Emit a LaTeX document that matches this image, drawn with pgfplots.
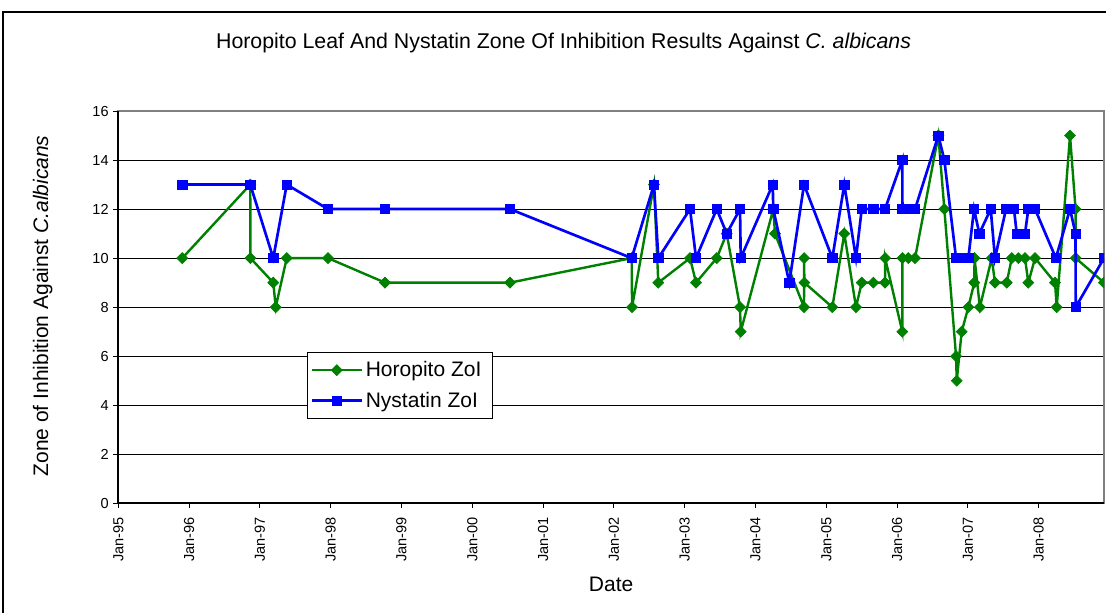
\documentclass[border=0pt]{standalone}
\usepackage{fontspec}
\setmainfont{Liberation Sans}
\usepackage{pgfplots}
\pgfplotsset{compat=1.18}
\definecolor{zgreen}{RGB}{0,128,0}
\definecolor{zblue}{RGB}{0,0,255}
\newcommand{\tickfont}{\fontsize{10.9}{13}\selectfont}
\newcommand{\labfont}{\fontsize{15.75}{19}\selectfont}
\begin{document}
\begin{tikzpicture}
\begin{axis}[name=ax, at={(0pt,0pt)}, anchor=south west,
  scale only axis, width=739.275pt, height=294.225pt,
  xmin=1995, xmax=2008.922, ymin=0, ymax=16,
  xtick={1995,...,2008},
  xticklabels={Jan-95,Jan-96,Jan-97,Jan-98,Jan-99,Jan-00,Jan-01,Jan-02,Jan-03,Jan-04,Jan-05,Jan-06,Jan-07,Jan-08},
  ytick={0,2,...,16},
  tick pos=left, tick align=outside, major tick length=3.75pt,
  ymajorgrids, grid style={black, line width=0.75pt},
  axis line style={draw=gray, line width=1.5pt},
  tick style={black, line width=0.75pt},
  xticklabel style={rotate=90, anchor=east, font=\tickfont},
  xticklabel shift=3pt,
  yticklabel style={font=\tickfont},
  /pgf/number format/assume math mode=true,
  xlabel={Date}, ylabel={Zone of Inhibition Against \textit{C.albicans}},
  label style={font=\labfont},
  xlabel style={at={(axis description cs:0.5,-0.2057)}, anchor=center},
  ylabel style={at={(axis description cs:-0.0768,0.503)}, anchor=center},
  title={Horopito Leaf And Nystatin Zone Of Inhibition Results Against \textit{C. albicans}},
  every axis title shift=0pt,
  title style={at={(axis description cs:0.4517,1.1733)}, anchor=center, font=\fontsize{16}{19}\selectfont},
  legend style={at={(axis description cs:0.1917,0.3864)}, anchor=north west,
    draw=black, line width=0.75pt, font=\labfont, row sep=6pt, inner xsep=2pt, inner ysep=5pt},
  legend cell align=left,
  legend image code/.code={\draw[mark repeat=2,mark phase=2] plot coordinates {(0cm,0cm) (0.66cm,0cm) (1.32cm,0cm)};},
  clip marker paths=true]
\addplot[color=zgreen, line width=1.8pt, mark=square*, mark size=2.9pt, mark options={rotate=45, line width=0.5pt}] coordinates {
(1995.904,10) (1996.864,13) (1996.866,10) (1997.189,9) (1997.223,8) (1997.379,10)
(1997.962,10) (1998.767,9) (2000.533,9) (2002.251,10) (2002.256,8) (2002.566,13)
(2002.627,9) (2003.075,10) (2003.160,9) (2003.452,10) (2003.593,11) (2003.781,8)
(2003.791,7) (2004.251,12) (2004.275,11) (2004.685,8) (2004.687,10) (2004.690,9)
(2005.085,8) (2005.254,11) (2005.419,8) (2005.500,9) (2005.664,9) (2005.829,9)
(2005.831,10) (2006.073,7) (2006.075,10) (2006.158,10) (2006.253,10) (2006.582,15)
(2006.667,12) (2006.832,6) (2006.842,5) (2006.912,7) (2007.006,8) (2007.090,9)
(2007.093,10) (2007.169,8) (2007.336,10) (2007.382,9) (2007.548,9) (2007.619,10)
(2007.712,10) (2007.806,10) (2007.853,9) (2007.948,10) (2008.230,9) (2008.254,8)
(2008.442,15) (2008.520,12) (2008.522,10) (2008.922,9)};
\addlegendentry{Horopito ZoI\hspace*{4.5pt}}
\addplot[color=zblue, line width=2pt, mark=square*, mark size=3.5pt, mark options={line width=0.5pt}] coordinates {
(1995.904,13) (1996.864,13) (1997.189,10) (1997.379,13) (1997.962,12) (1998.767,12)
(2000.533,12) (2002.251,10) (2002.566,13) (2002.627,10) (2003.075,12) (2003.160,10)
(2003.452,12) (2003.593,11) (2003.781,12) (2003.791,10) (2004.243,13) (2004.251,12)
(2004.477,9) (2004.685,13) (2005.085,10) (2005.254,13) (2005.419,10) (2005.500,12)
(2005.664,12) (2005.829,12) (2006.073,14) (2006.075,12) (2006.158,12) (2006.253,12)
(2006.582,15) (2006.667,14) (2006.832,10) (2006.912,10) (2007.006,10) (2007.086,12)
(2007.161,11) (2007.322,12) (2007.382,10) (2007.538,12) (2007.651,12) (2007.689,11)
(2007.806,11) (2007.853,12) (2007.948,12) (2008.242,10) (2008.442,12) (2008.520,11)
(2008.522,8) (2008.922,10)};
\addlegendentry{Nystatin ZoI\hspace*{4.5pt}}
\end{axis}
\draw[black, line width=1.5pt] (ax.north west) -- (ax.south west) -- (ax.south east);
\draw[black, line width=1pt] (-86.5pt,-100pt) -- (-86.5pt,368.5pt) -- (760pt,368.5pt);
\pgfresetboundingbox
\useasboundingbox (-88.725pt,-81.525pt) rectangle (740.775pt,377.475pt);
\end{tikzpicture}
\end{document}
